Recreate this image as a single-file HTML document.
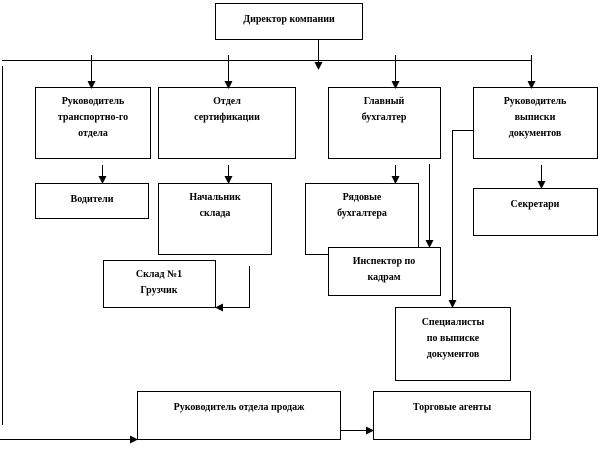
<!DOCTYPE html>
<html><head><meta charset="utf-8"><style>
body{margin:0;background:#fff;width:602px;height:446px;overflow:hidden}
text{font-family:"Liberation Serif",serif;font-weight:bold;font-size:10px;text-anchor:middle;fill:#000}
</style></head><body>
<svg width="602" height="446" viewBox="0 0 602 446" xmlns="http://www.w3.org/2000/svg">
<defs><marker id="a" markerWidth="8" markerHeight="8" refX="7" refY="4" orient="auto" markerUnits="userSpaceOnUse"><path d="M0,0 L8,4 L0,8 z" fill="#000"/></marker></defs>
<g fill="none" stroke="#000" stroke-width="1">
<rect x="215.5" y="3.5" width="147" height="36"/>
<rect x="35.5" y="87.5" width="115" height="71"/>
<rect x="158.5" y="87.5" width="137" height="71"/>
<rect x="328.5" y="87.5" width="112" height="71"/>
<rect x="473.5" y="87.5" width="124" height="71"/>
<rect x="35.5" y="183.5" width="113" height="35"/>
<rect x="158.5" y="183.5" width="113" height="71"/>
<rect x="305.5" y="183.5" width="113" height="71"/>
<rect x="473.5" y="188.5" width="124" height="47"/>
<rect x="328.5" y="247.5" width="112" height="48" fill="#fff"/>
<rect x="103.5" y="260.5" width="112" height="47"/>
<rect x="395.5" y="307.5" width="115" height="73"/>
<rect x="137.5" y="391.5" width="203" height="48"/>
<rect x="373.5" y="391.5" width="157" height="48"/>
<path d="M2 60.5 H531"/>
<path d="M2.5 66 V425"/>
<path d="M318.5 39 V69" marker-end="url(#a)"/>
<path d="M91.5 55 V88" marker-end="url(#a)"/>
<path d="M228.5 55 V88" marker-end="url(#a)"/>
<path d="M395.5 55 V88" marker-end="url(#a)"/>
<path d="M531.5 55 V88" marker-end="url(#a)"/>
<path d="M102.5 165 V183" marker-end="url(#a)"/>
<path d="M228.5 165 V183" marker-end="url(#a)"/>
<path d="M395.5 165 V183" marker-end="url(#a)"/>
<path d="M541.5 165 V188" marker-end="url(#a)"/>
<path d="M429.5 164 V247" marker-end="url(#a)"/>
<path d="M473 130.5 H452.5 V307" marker-end="url(#a)"/>
<path d="M249.5 266 V307.5 H216" marker-end="url(#a)"/>
<path d="M0 439.5 H137" marker-end="url(#a)"/>
<path d="M340 430.5 H373" marker-end="url(#a)"/>
</g>
<text x="289" y="22">Директор компании</text>
<text x="93" y="104">Руководитель</text><text x="93" y="120">транспортно-го</text><text x="93" y="136">отдела</text>
<text x="227" y="104">Отдел</text><text x="227" y="120">сертификации</text>
<text x="384" y="104">Главный</text><text x="384" y="120">бухгалтер</text>
<text x="535" y="104">Руководитель</text><text x="535" y="120">выписки</text><text x="535" y="136">документов</text>
<text x="92" y="202">Водители</text>
<text x="215" y="200">Начальник</text><text x="215" y="216">склада</text>
<text x="362" y="200">Рядовые</text><text x="362" y="216">бухгалтера</text>
<text x="535" y="207">Секретари</text>
<text x="384" y="264">Инспектор по</text><text x="384" y="280">кадрам</text>
<text x="159" y="277">Склад №1</text><text x="159" y="293">Грузчик</text>
<text x="453" y="325">Специалисты</text><text x="453" y="341">по выписке</text><text x="453" y="357">документов</text>
<text x="239" y="410">Руководитель отдела продаж</text>
<text x="452" y="410">Торговые агенты</text>
</svg>
</body></html>
